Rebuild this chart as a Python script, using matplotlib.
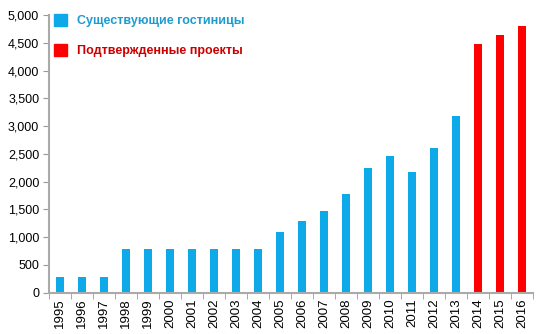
import matplotlib
matplotlib.use("Agg")
import matplotlib.pyplot as plt
from matplotlib.patches import Patch
from matplotlib.ticker import FuncFormatter, FixedLocator
import numpy as np

plt.rcParams['font.family'] = ['Liberation Sans', 'DejaVu Sans']

years = ['1995', '1996', '1997', '1998', '1999', '2000', '2001', '2002', '2003', '2004',
         '2005', '2006', '2007', '2008', '2009', '2010', '2011', '2012', '2013',
         '2014', '2015', '2016']
existing = [280, 280, 280, 790, 790, 790, 790, 790, 790, 790,
            1090, 1290, 1470, 1770, 2240, 2460, 2180, 2600, 3180,
            None, None, None]
confirmed = [None] * 19 + [4480, 4640, 4800]
label_existing = 'Существующие гостиницы'
label_confirmed = 'Подтвержденные проекты'

blue = '#0DA9E8'
red = '#FF0000'

fig = plt.figure(figsize=(5.44, 3.34), dpi=100)
ax = fig.add_axes([0.09, 0.124, 0.89, 0.831])

x = np.arange(len(years))
ex_x = [i for i, v in enumerate(existing) if v is not None]
ex_v = [v for v in existing if v is not None]
cf_x = [i for i, v in enumerate(confirmed) if v is not None]
cf_v = [v for v in confirmed if v is not None]
w = 0.39
ax.bar(ex_x, ex_v, width=w, color=blue, label=label_existing)
ax.bar(cf_x, cf_v, width=w, color=red, label=label_confirmed)

ax.set_xlim(-0.5, len(years) - 0.5)
ax.set_ylim(0, 5000)
ax.set_yticks(np.arange(0, 5001, 500))
ax.yaxis.set_major_formatter(FuncFormatter(lambda v, p: f'{int(v):,}'))
ax.set_xticks(x)
ax.set_xticklabels(years, rotation=90, fontsize=9.5)
ax.xaxis.set_minor_locator(FixedLocator(np.arange(-0.5, len(years), 1)))
ax.tick_params(axis='x', which='major', length=0, pad=4)
ax.tick_params(axis='x', which='minor', length=4, color='#999999', direction='out')
ax.tick_params(axis='y', length=4, color='#999999', labelsize=9, pad=3)

for s in ['top', 'right']:
    ax.spines[s].set_visible(False)
for s in ['left', 'bottom']:
    ax.spines[s].set_color('#aaaaaa')
    ax.spines[s].set_linewidth(1.5)

handles = [Patch(color=blue), Patch(color=red)]
leg = fig.legend(handles, [label_existing, label_confirmed], loc='upper left',
                 bbox_to_anchor=(54 / 544, 1 - 14 / 334), frameon=False,
                 borderpad=0, borderaxespad=0,
                 handlelength=1.05, handleheight=1.15, handletextpad=0.8,
                 labelspacing=1.3, prop={'weight': 'bold', 'size': 9})
leg.get_texts()[0].set_color('#1E9CD0')
leg.get_texts()[1].set_color('#CC0000')

fig.savefig('out.png', dpi=100)
